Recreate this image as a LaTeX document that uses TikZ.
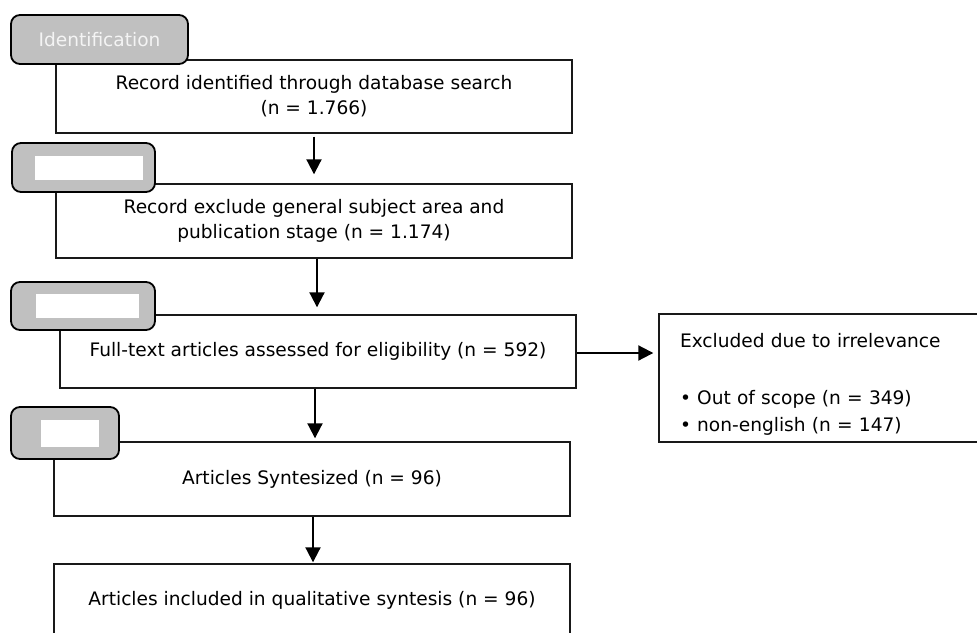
\documentclass[tikz,border=0pt]{standalone}
\usepackage{fontspec}
\setmainfont{DejaVu Sans}
\usetikzlibrary{arrows.meta}
\definecolor{tabgray}{HTML}{C0C0C0}
\definecolor{tabtext}{HTML}{F4F4F4}
\begin{document}
\begin{tikzpicture}[x=1pt,y=-1pt,
  box/.style={draw=black!90, line width=1.4pt, fill=white, minimum height=73pt,
    minimum width=516pt, inner sep=0pt, align=center,
    font=\fontsize{18.6}{25}\selectfont},
  exbox/.style={draw=black!90, line width=1.4pt, fill=white, minimum height=128pt,
    text width=284pt, inner xsep=21pt, inner ysep=0pt, align=left,
    font=\fontsize{18.6}{27}\selectfont},
  tab/.style={draw=black, line width=1.8pt, fill=tabgray, rounded corners=9pt,
    inner sep=0pt, text=tabtext, font=\fontsize{18.6}{22}\selectfont},
  blank/.style={fill=white, inner sep=0pt},
  arr/.style={line width=2pt, -{Triangle[width=15pt,length=15pt]}}]
\useasboundingbox (0,0) rectangle (977,632);
\clip (0,0) rectangle (977,632);
% main boxes
\node[box] (b1) at (314,96.5) {Record identified through database search\\(n = 1.766)};
\node[box, minimum height=74pt] (b2) at (314,221) {Record exclude general subject area and\\publication stage (n = 1.174)};
\node[box] (b3) at (318,351.5) {Full-text articles assessed for eligibility (n = 592)};
\node[box, minimum height=74pt] (b4) at (312,479) {Articles Syntesized (n = 96)};
\node[box] (b5) at (312,600.5) {Articles included in qualitative syntesis (n = 96)};
\node[exbox] (ex) at (822,378) {\rule{0pt}{26pt}Excluded due to irrelevance\\[30pt]%
\textbullet\ Out of scope (n = 349)\\\textbullet\ non-english (n = 147)};
% tabs
\node[tab, minimum width=177pt, minimum height=49pt] (t1) at (99.5,39.5) {Identification};
\node[tab, minimum width=143pt, minimum height=49pt] (t2) at (83.5,167.5) {};
\node[blank, minimum width=108pt, minimum height=24pt] (w2) at (89,168) {};
\node[tab, minimum width=144pt, minimum height=48pt] (t3) at (83,306) {};
\node[blank, minimum width=103pt, minimum height=24pt] (w3) at (87.5,306) {};
\node[tab, minimum width=108pt, minimum height=52pt] (t4) at (65,433) {};
\node[blank, minimum width=58pt, minimum height=27pt] (w4) at (70,433.5) {};
% arrows
\draw[arr, shorten <=3pt, shorten >=9pt] (b1.south) -- (b2.north);
\draw[arr, shorten >=7pt] ([xshift=3pt]b2.south) -- ([xshift=3pt]b2.south |- b3.north);
\draw[arr, shorten >=3pt] ([xshift=-3pt]b3.south) -- ([xshift=-3pt]b3.south |- b4.north);
\draw[arr, shorten >=1pt] ([xshift=1pt]b4.south) -- ([xshift=1pt]b4.south |- b5.north);
\draw[arr, shorten >=5pt] ([yshift=-1.5pt]b3.east) -- ([yshift=-1.5pt]b3.east -| ex.west);
\end{tikzpicture}
\end{document}
